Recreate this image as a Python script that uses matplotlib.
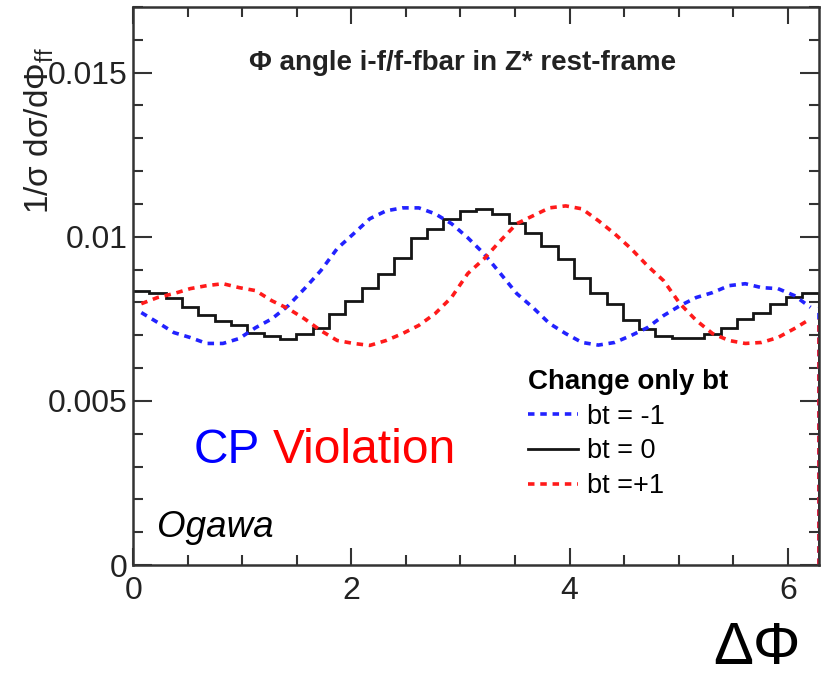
import numpy as np
import matplotlib.pyplot as plt

plt.rcParams['font.family'] = ['Liberation Sans', 'DejaVu Sans']
plt.rcParams['mathtext.fontset'] = 'custom'
plt.rcParams['mathtext.rm'] = 'Liberation Sans'
plt.rcParams['mathtext.it'] = 'Liberation Sans:italic'

# phi range of the histograms (0 .. 2 pi)
phi_min, phi_max = 0.0, 2 * np.pi

# 1/sigma dsigma/dPhi per bin
bt_minus = [0.00769, 0.00739, 0.00708, 0.00693, 0.00675, 0.00675, 0.00690,
            0.00723, 0.00750, 0.00790, 0.00842, 0.00897, 0.00964, 0.01009,
            0.01055, 0.01079, 0.01088, 0.01088, 0.01070, 0.01040, 0.00997,
            0.00948, 0.00888, 0.00827, 0.00784, 0.00736, 0.00705, 0.00678,
            0.00670, 0.00678, 0.00699, 0.00723, 0.00760, 0.00790, 0.00815,
            0.00830, 0.00851, 0.00857, 0.00845, 0.00842, 0.00821, 0.00785]
bt_zero = [0.00836, 0.00828, 0.00812, 0.00787, 0.00762, 0.00742, 0.00730,
           0.00708, 0.00699, 0.00690, 0.00705, 0.00723, 0.00766, 0.00805,
           0.00845, 0.00888, 0.00936, 0.00997, 0.01024, 0.01055, 0.01079,
           0.01085, 0.01070, 0.01043, 0.01012, 0.00973, 0.00933, 0.00875,
           0.00830, 0.00796, 0.00745, 0.00720, 0.00699, 0.00693, 0.00693,
           0.00705, 0.00723, 0.00750, 0.00769, 0.00796, 0.00815, 0.00828]
bt_plus = [0.00796, 0.00815, 0.00827, 0.00842, 0.00851, 0.00857, 0.00845,
           0.00836, 0.00805, 0.00781, 0.00750, 0.00714, 0.00684, 0.00675,
           0.00669, 0.00684, 0.00705, 0.00730, 0.00766, 0.00815, 0.00888,
           0.00933, 0.00988, 0.01040, 0.01064, 0.01088, 0.01094, 0.01085,
           0.01049, 0.01009, 0.00964, 0.00912, 0.00866, 0.00796, 0.00745,
           0.00705, 0.00684, 0.00675, 0.00678, 0.00693, 0.00720, 0.00750]

labels = ['bt = -1', 'bt = 0', 'bt =+1']
x_ticks = [0, 2, 4, 6]
y_ticks = [0, 0.005, 0.01, 0.015]
y_tick_labels = ['0', '0.005', '0.01', '0.015']

fig = plt.figure(figsize=(8.27, 6.77), dpi=100)
ax = fig.add_axes([0.161, 0.1654, 0.829, 0.8243])

edges = np.linspace(phi_min, phi_max, len(bt_zero) + 1)
centres = 0.5 * (edges[:-1] + edges[1:])
dots = (0, (1.8, 1.6))

# black histogram as steps, the two dotted ones through the bin centres
h0 = ax.stairs(bt_zero, edges, baseline=None, color='#151515', lw=2.0,
               label=labels[1])
ax.vlines(edges[-1], 0, bt_zero[-1], color='#151515', lw=2.0)
hm, = ax.plot(centres, bt_minus, color='#2222ff', lw=2.6, ls=dots,
              label=labels[0])
ax.vlines(edges[-1], 0, bt_minus[-1], color='#2222ff', lw=2.6, ls=dots)
hp, = ax.plot(centres, bt_plus, color='#ff1a1a', lw=2.6, ls=dots,
              label=labels[2])
ax.vlines(edges[-1], 0, bt_plus[-1], color='#ff1a1a', lw=2.6, ls=dots)

ax.set_xlim(phi_min, phi_max)
ax.set_ylim(0, 0.017)
ax.set_xticks(x_ticks)
ax.set_xticks(np.arange(0, 6.5, 0.5), minor=True)
ax.set_yticks(y_ticks)
ax.set_yticklabels(y_tick_labels)
ax.set_yticks(np.arange(0, 0.0171, 0.001), minor=True)
ax.tick_params(which='both', direction='in', top=True, right=True,
               color='#333333', width=1.5, labelsize=23, labelcolor='#222222')
ax.tick_params(axis='y', which='major', length=14, pad=4)
ax.tick_params(axis='x', which='major', length=12, pad=8)
ax.tick_params(which='minor', length=7)
for s in ax.spines.values():
    s.set_linewidth(1.8)
    s.set_color('#333333')

fig.text(0.047, 0.93, '1/σ dσ/dΦ$_{\\rm ff}$', rotation=90, ha='center',
         va='top', fontsize=24, color='#222222')

ax.text(0.48, 0.9, 'Φ angle i-f/f-fbar in Z* rest-frame', transform=ax.transAxes,
        ha='center', va='center', fontsize=20, fontweight='bold',
        color='#222222')

leg = ax.legend(handles=[hm, h0, hp], loc='upper left',
                bbox_to_anchor=(0.548, 0.385), frameon=False, fontsize=19.5,
                title='Change only bt', alignment='left',
                title_fontproperties={'weight': 'bold', 'size': 20},
                handlelength=1.85, handletextpad=0.35, labelspacing=0.32,
                borderpad=0.2)

ax.text(0.088, 0.183, 'CP', transform=ax.transAxes, color='#0000ff',
        fontsize=34.5, va='baseline')
ax.text(0.203, 0.183, 'Violation', transform=ax.transAxes, color='#ff0000',
        fontsize=34.5, va='baseline')
ax.text(0.035, 0.05, 'Ogawa', transform=ax.transAxes, fontsize=26.5,
        style='italic', va='baseline')

fig.text(0.968, 0.001, 'ΔΦ', ha='right', va='bottom', fontsize=43)

fig.savefig('out.png', dpi=100)
